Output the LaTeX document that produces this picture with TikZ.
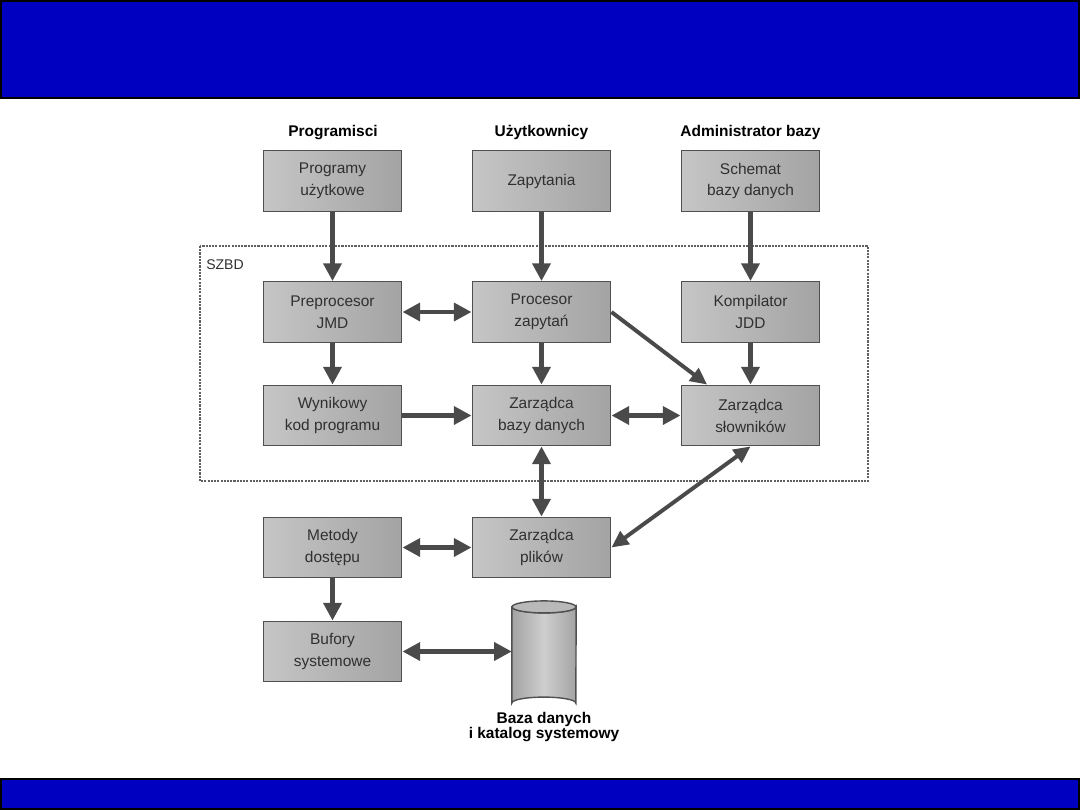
\documentclass[tikz,border=0pt]{standalone}
\usepackage{fontspec}
\setmainfont{Liberation Sans}
\usetikzlibrary{arrows.meta,calc}
\definecolor{barblue}{HTML}{0000C0}
\definecolor{arrowgray}{HTML}{4A4A4A}
\definecolor{boxborder}{HTML}{505050}
\definecolor{boxtext}{HTML}{303030}
\tikzset{
  x=0.025cm, y=-0.025cm,
  bar/.style={fill=barblue, draw=black, line width=1.2pt},
  box/.style={draw=boxborder, line width=1pt, left color=gray!45, right color=gray!72,
    minimum width=98.5pt, minimum height=43pt, inner sep=0pt, align=center,
    text=boxtext, font=\fontsize{11}{15.6}\selectfont},
  head/.style={font=\bfseries\fontsize{11}{13}\selectfont, text=black},
  arr/.style={draw=arrowgray, line width=3.5pt, -{Triangle[length=12.5pt,width=12.5pt]}},
  darr/.style={draw=arrowgray, line width=3.5pt, {Triangle[length=12.5pt,width=12.5pt]}-{Triangle[length=12.5pt,width=12.5pt]}},
  thinarr/.style={draw=arrowgray, line width=2.8pt, {Triangle[length=12pt,width=11pt]}-{Triangle[length=12pt,width=11pt]}},
  thinarrone/.style={draw=arrowgray, line width=2.8pt, -{Triangle[length=12pt,width=11pt]}},
  szbd/.style={draw=gray!75!black, line width=0.8pt, dash pattern=on 1.5pt off 0.8pt},
}
\begin{document}
\begin{tikzpicture}
\useasboundingbox (0,0) rectangle (1080,810);
% bars
\draw[bar] (0.7,0.7) rectangle (1079.3,98);
\draw[bar] (0.7,779) rectangle (1079.3,809.3);
% SZBD frame
\draw[szbd] (200,246) rectangle (868,481);
\node[font=\fontsize{10}{12}\selectfont, text=boxtext] (szbdlbl) at (225,265) {SZBD};
% headers
\node[head, anchor=base] (h1) at (333,136) {Programisci};
\node[head, anchor=base] (h2) at (541.5,136) {Użytkownicy};
\node[head, anchor=base] (h3) at (750.5,136) {Administrator bazy};
% boxes
\node[box] (prog) at (332.5,181) {Programy\\użytkowe};
\node[box] (zap)  at (541.5,181) {Zapytania};
\node[box] (sch)  at (750.5,181) {Schemat\\bazy danych};
\node[box] (prep) at (332.5,312) {Preprocesor\\JMD};
\node[box] (proc) at (541.5,312) {Procesor\\zapytań};
\node[box] (komp) at (750.5,312) {Kompilator\\JDD};
\node[box] (wyn)  at (332.5,415.5) {Wynikowy\\kod programu};
\node[box] (zbd)  at (541.5,415.5) {Zarządca\\bazy danych};
\node[box] (zsl)  at (750.5,415.5) {Zarządca\\słowników};
\node[box] (met)  at (332.5,547.5) {Metody\\dostępu};
\node[box] (zpl)  at (541.5,547.5) {Zarządca\\plików};
\node[box] (buf)  at (332.5,651.5) {Bufory\\systemowe};
% database cylinder
\node[minimum width=45.4pt, minimum height=68pt, inner sep=0pt] (db) at (544,655) {};
\path[draw=boxborder, line width=1pt, left color=gray!72, right color=gray!72, middle color=gray!38]
  (db.north west) -- (db.south west) arc[start angle=180, end angle=360, x radius=32, y radius=6]
  -- (db.north east) arc[start angle=0, end angle=180, x radius=32, y radius=6] -- cycle;
\path[draw=boxborder, line width=1pt, fill=gray!55]
  (db.north) ellipse[x radius=32, y radius=6];
\node[head, align=center, font=\bfseries\fontsize{11}{10.8}\selectfont] (dblbl) at (544,727) {Baza danych\\i katalog systemowy};
% arrows
\draw[arr] (prog.south) -- (prep.north);
\draw[arr] (zap.south) -- (proc.north);
\draw[arr] (sch.south) -- (komp.north);
\draw[darr] (prep.east) -- (proc.west);
\draw[arr] (prep.south) -- (wyn.north);
\draw[arr] (proc.south) -- (zbd.north);
\draw[thinarrone] (proc.east) -- ($(zsl.north west)!0.19!(zsl.north east)$);
\draw[arr] (komp.south) -- (zsl.north);
\draw[arr] (wyn.east) -- (zbd.west);
\draw[darr] (zbd.east) -- (zsl.west);
\draw[darr] (zbd.south) -- (zpl.north);
\draw[thinarr] (zsl.south) -- (zpl.east);
\draw[darr] (met.east) -- (zpl.west);
\draw[arr] (met.south) -- (buf.north);
\draw[darr] (buf.east) -- (buf.east -| db.west);
\end{tikzpicture}
\end{document}
